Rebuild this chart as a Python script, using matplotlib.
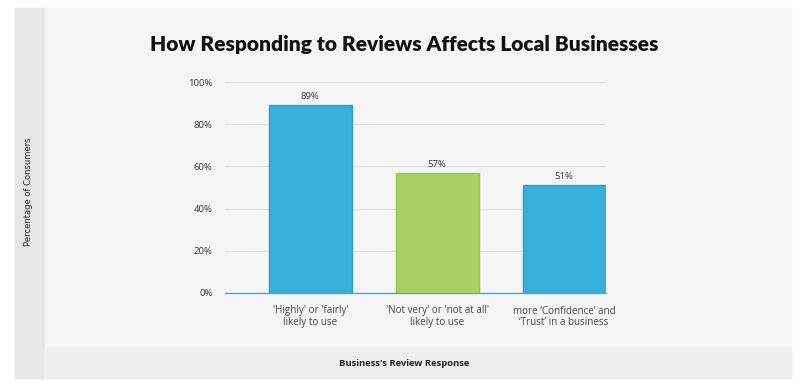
import matplotlib
matplotlib.use("Agg")
import matplotlib.pyplot as plt
from matplotlib.patches import Rectangle

categories = ["'Highly' or 'fairly'\nlikely to use",
              "'Not very' or 'not at all'\nlikely to use",
              "more \u2018Confidence\u2019 and\n\u2018Trust\u2019 in a business"]
values = [89, 57, 51]
colors = ["#38afda", "#a9d062", "#38afda"]
edges = ["#2a9fcc", "#9cc455", "#2a9fcc"]
yticks = [0, 20, 40, 60, 80, 100]
ytick_labels = ["0%", "20%", "40%", "60%", "80%", "100%"]

W, H = 800, 383
fig = plt.figure(figsize=(W / 100, H / 100), dpi=100)
fig.patch.set_facecolor("white")

def px(x0, y0, x1, y1):
    # pixel box (top-left origin) -> figure fraction
    return (x0 / W, 1 - y1 / H, (x1 - x0) / W, (y1 - y0) / H)

# panels
for box, c in [((15, 8, 791, 378), "#f5f5f5"),
               ((15, 8, 44, 378), "#e6e6e6"),
               ((44, 348, 791, 378), "#eeeeee")]:
    x0, y0, w, h = px(*box)
    fig.patches.append(Rectangle((x0, y0), w, h, transform=fig.transFigure,
                                 color=c, zorder=-5))

ax = fig.add_axes(px(225, 82, 606, 293))
ax.set_zorder(5)
ax.set_facecolor("none")
pos = range(len(values))
bars = ax.bar(pos, values, width=0.655, color=colors, edgecolor=edges, linewidth=1, zorder=3)
for b, v in zip(bars, values):
    ax.text(b.get_x() + b.get_width() / 2, v + 2, f"{v}%", ha="center", va="bottom",
            fontsize=6.8, color="#333333", family="Open Sans")

ax.set_xlim(-0.672, 2.33)
ax.set_ylim(0, 100)
ax.set_yticks(yticks)
ax.set_yticklabels(ytick_labels, fontsize=6.8, color="#333333", family="Open Sans")
ax.set_xticks(list(pos))
ax.set_xticklabels(categories, fontsize=7.1, color="#444444", family="Open Sans", linespacing=1.05)
ax.tick_params(length=0)
ax.tick_params(axis="y", pad=9)
ax.tick_params(axis="x", pad=9)
ax.grid(axis="y", color="#e2e2e2", linewidth=0.8, zorder=0)
for s in ["top", "right", "left"]:
    ax.spines[s].set_visible(False)
ax.spines["bottom"].set_color("#38afda")
ax.spines["bottom"].set_linewidth(1)

fig.text(404 / W, 1 - 45 / H, "How Responding to Reviews Affects Local Businesses",
         ha="center", va="center", fontsize=15, fontweight="heavy", color="#111111", family="Lato")
fig.text(404 / W, 1 - 363 / H, "Business's Review Response", ha="center", va="center",
         fontsize=6.8, fontweight="bold", color="#222222", family="Open Sans")
fig.text(29 / W, 1 - 192 / H, "Percentage of Consumers", ha="center", va="center", rotation=90,
         fontsize=6, color="#222222", family="DejaVu Sans")

fig.savefig("out.png", dpi=100)
